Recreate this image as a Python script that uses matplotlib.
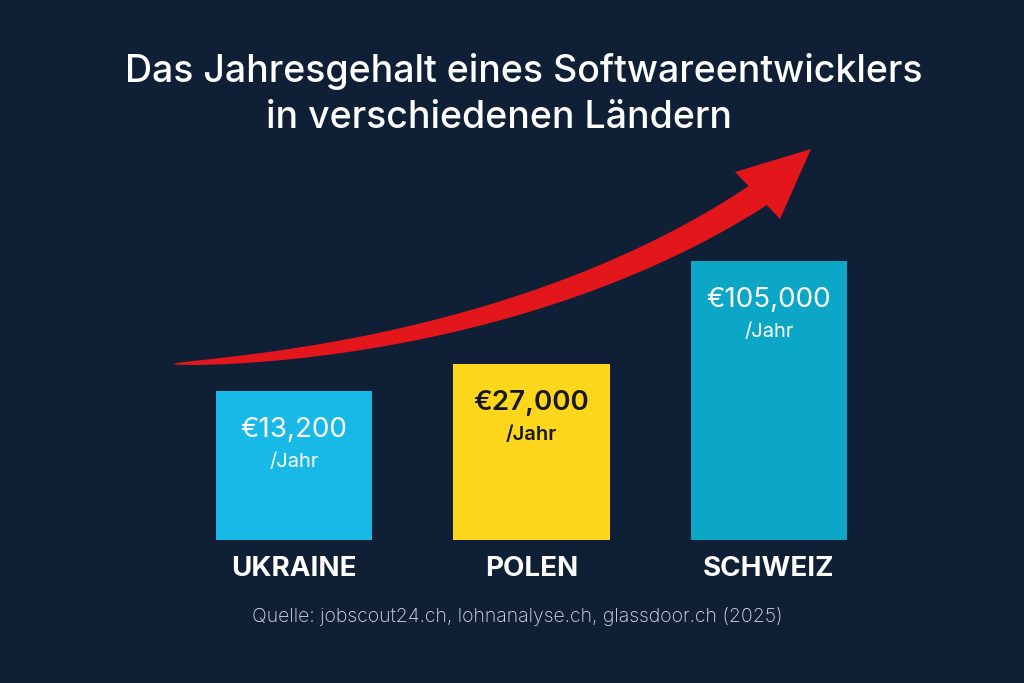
import numpy as np
import matplotlib
matplotlib.use("Agg")
import matplotlib.pyplot as plt
from matplotlib.patches import Polygon

# data
countries = ["UKRAINE", "POLEN", "SCHWEIZ"]
salaries = [13200, 27000, 105000]
# the bars in the picture are not to scale, heights as drawn
bar_heights = [149, 176, 279]
bar_colors = ["#17b9e7", "#fed71c", "#0ca6c7"]
label_colors = ["white", "#16181c", "white"]
title_lines = ["Das Jahresgehalt eines Softwareentwicklers", "in verschiedenen Ländern"]
source = "Quelle: jobscout24.ch, lohnanalyse.ch, glassdoor.ch (2025)"

bg = "#0f1f35"
W, H = 1024, 683

fig = plt.figure(figsize=(W / 100, H / 100), dpi=100, facecolor=bg)

# background axes in pixel coordinates (for the arrow)
ax_bg = fig.add_axes([0, 0, 1, 1])
ax_bg.set_xlim(0, W)
ax_bg.set_ylim(H, 0)
ax_bg.set_facecolor(bg)
ax_bg.axis("off")

# tapered red arrow along a cubic bezier
P = np.array([[173, 364], [380, 355], [600, 300], [760, 194]], dtype=float)
t = np.linspace(0, 1, 200)[:, None]
curve = ((1 - t) ** 3) * P[0] + 3 * ((1 - t) ** 2) * t * P[1] + 3 * (1 - t) * t ** 2 * P[2] + t ** 3 * P[3]
d = np.gradient(curve, axis=0)
d = d / np.linalg.norm(d, axis=1)[:, None]
normal = np.column_stack([-d[:, 1], d[:, 0]])
half = 13 * (t[:, 0] ** 0.55)
upper = curve + normal * half[:, None]
lower = curve - normal * half[:, None]
shaft = np.vstack([upper, lower[::-1]])
ax_bg.add_patch(Polygon(shaft, closed=True, color="#e3161b", lw=0))
head = np.array([[811, 149], [735, 172], [780, 219]])
ax_bg.add_patch(Polygon(head, closed=True, color="#e3161b", lw=0))

# bar axes
ax = fig.add_axes([0, 0, 1, 1])
ax.patch.set_alpha(0)
x = np.arange(len(countries))
ax.bar(x, bar_heights, width=0.66, color=bar_colors, zorder=3)
ax.set_xlim(-1.238, 3.074)
ax.set_ylim(-143, 540)
ax.axis("off")

for i in range(len(countries)):
    wt = "semibold" if label_colors[i] != "white" else "normal"
    ax.text(x[i], bar_heights[i] - 39, "€{:,}".format(salaries[i]), ha="center", va="center",
            color=label_colors[i], fontsize=20, family="Inter", fontweight=wt, zorder=4)
    ax.text(x[i], bar_heights[i] - 71, "/Jahr", ha="center", va="center",
            color=label_colors[i], fontsize=14.5, family="Inter", fontweight=wt, zorder=4)
    ax.text(x[i], -29, countries[i], ha="center", va="center", color="white",
            fontsize=20, family="Inter", fontweight="bold")

fig.text(524 / W, 1 - 72 / H, title_lines[0], ha="center", va="center", color="white",
         fontsize=27, family="Inter", fontweight="medium")
fig.text(266 / W, 1 - 118 / H, title_lines[1], ha="left", va="center", color="white",
         fontsize=27, family="Inter", fontweight="medium")
fig.text(517 / W, 1 - 617 / H, source, ha="center", va="center", color="#dde1e6",
         fontsize=14, family="Inter", fontweight="light")

fig.savefig("out.png", dpi=100, facecolor=bg)
